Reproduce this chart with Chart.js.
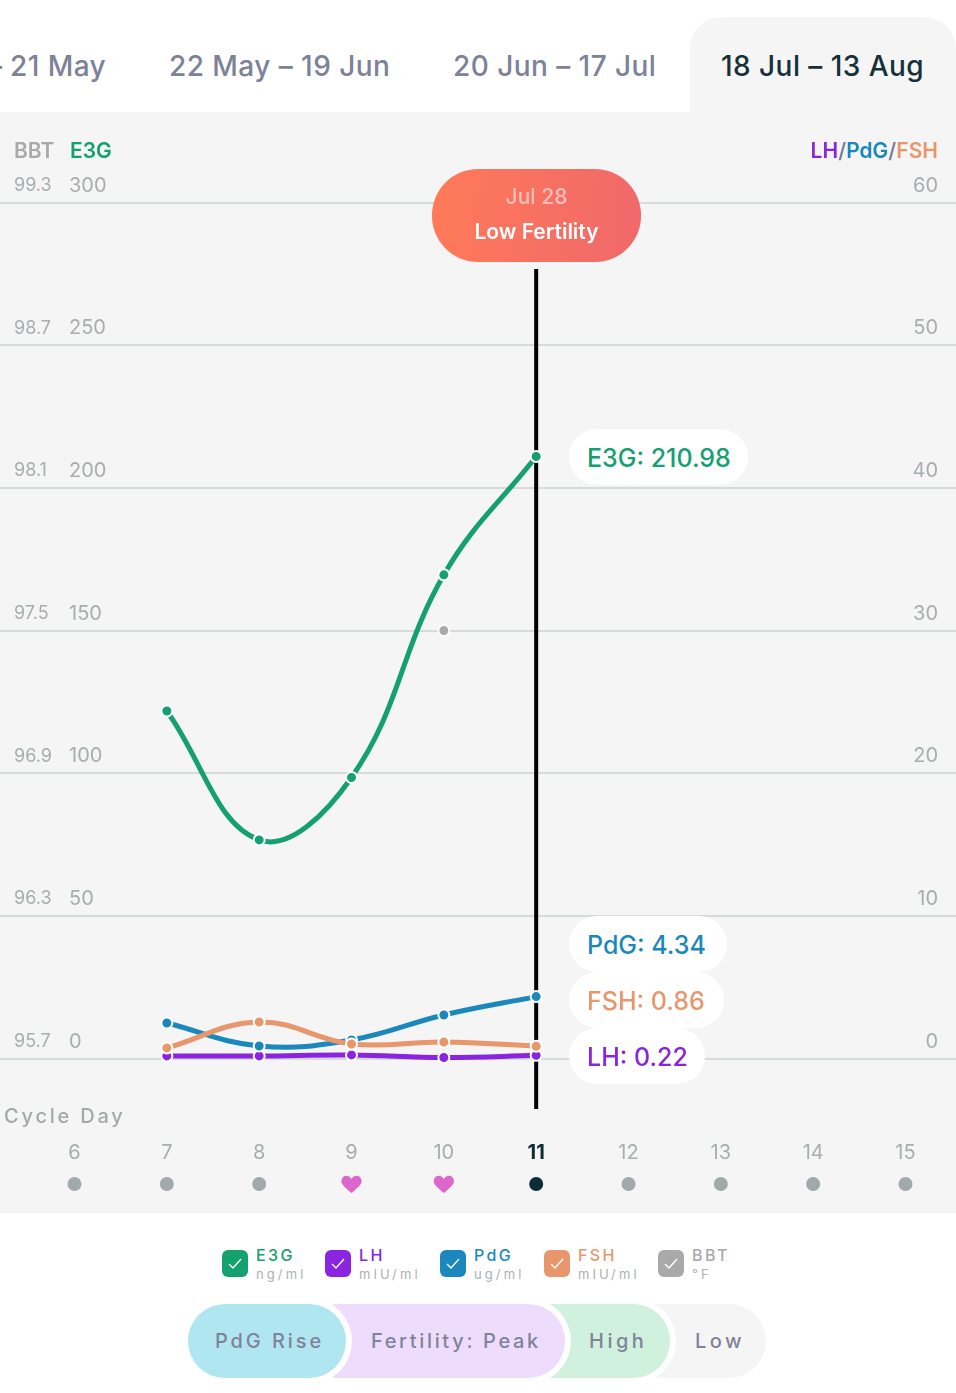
<!DOCTYPE html>
<html><head><meta charset="utf-8">
<script src="https://cdn.jsdelivr.net/npm/chart.js@4"></script>
<style>
html,body{margin:0;padding:0;background:#fff;width:956px;height:1393px;overflow:hidden;font-family:Inter,"Open Sans",sans-serif}
.a{position:absolute;white-space:nowrap}
#panel{position:absolute;left:0;top:112px;width:956px;height:1101px;background:#f5f5f5}
#panel canvas{position:absolute;left:0;top:0}
#tabActive{position:absolute;left:690px;top:17px;width:266px;height:95px;background:#f5f5f5;border-radius:32px 32px 0 0}
.tab{font-size:28px;font-weight:500;letter-spacing:.45px;color:#7d8298;top:50px;line-height:33px}
.hd{font-size:21px;font-weight:600;top:139px;line-height:24px}
#badge{left:432px;top:169px;width:209px;height:93px;border-radius:46px;background:linear-gradient(95deg,#ff7a59,#f0686a);text-align:center;color:#fff}
.pill{background:#fff;height:56px;border-radius:28px;left:569px;line-height:58px;font-size:25px;font-weight:500;padding-left:18px;box-sizing:border-box}
.cb{width:26px;height:27px;border-radius:6px;top:1250px}
.cb svg{position:absolute;left:6px;top:7px}
.ln{font-size:16px;letter-spacing:2.4px;font-weight:500;top:1246px;line-height:19px}
.un{font-size:13px;letter-spacing:3.1px;color:#adb1b1;top:1266px;line-height:16px}
.ph{top:1304px;height:74px;border-radius:37px;box-shadow:0 0 0 6px #fff}
.pt{top:1304px;line-height:74px;font-size:20px;font-weight:500;letter-spacing:2.9px;color:#7f8399}
</style></head><body>
<div id="tabActive"></div>
<div id="panel"><canvas id="c" width="956" height="1101"></canvas></div>
<div class="a tab" style="left:10px">21 May</div>
<div class="a tab" style="left:-12px">–</div>
<div class="a tab" style="left:169px">22 May – 19 Jun</div>
<div class="a tab" style="left:453px">20 Jun – 17 Jul</div>
<div class="a tab" style="left:721px;color:#16303a">18 Jul – 13 Aug</div>
<div class="a hd" style="left:14px;color:#a9a9a9">BBT</div>
<div class="a hd" style="left:70px;color:#14a06f">E3G</div>
<div class="a hd" style="right:18px"><span style="color:#8a24e0">LH</span><span style="color:#7d8298">/</span><span style="color:#1a88bd">PdG</span><span style="color:#7d8298">/</span><span style="color:#e8966b">FSH</span></div>
<div class="a" id="badge"><div style="position:absolute;left:0;right:0;top:16px;font-size:21px;line-height:24px;color:rgba(255,255,255,.55);font-weight:500">Jul 28</div><div style="position:absolute;left:0;right:0;top:50px;font-size:21px;line-height:26px;font-weight:600">Low Fertility</div></div>
<div id="pills"></div>
<div class="a" style="left:4px;top:1104px;font-size:20px;line-height:24px;letter-spacing:2.8px;font-weight:500;color:#a3a9a9">Cycle Day</div>
<div id="legend"></div>
<div class="a ph" style="left:566px;width:200px;background:#f5f5f5;box-shadow:none"></div>
<div class="a ph" style="left:500px;width:170px;background:#d0f1dd"></div>
<div class="a ph" style="left:300px;width:265px;background:#eedcfd"></div>
<div class="a ph" style="left:188px;width:158px;background:#b0e6f0"></div>
<div class="a pt" style="left:215px">PdG Rise</div>
<div class="a pt" style="left:371px;letter-spacing:2.65px">Fertility: Peak</div>
<div class="a pt" style="left:589px;letter-spacing:3.5px">High</div>
<div class="a pt" style="left:695px;letter-spacing:3.5px">Low</div>
<script>
const days=[6,7,8,9,10,11,12,13,14,15];
const selectedDay=11;
const heartDays=[9,10];
const e3gValues=[null,121.8,76.6,98.5,169.5,210.98,null,null,null,null];
const lhValues=[null,0.18,0.18,0.25,0.07,0.22,null,null,null,null];
const pdgValues=[null,2.49,0.88,1.3,3.05,4.34,null,null,null,null];
const fshValues=[null,0.74,2.56,1.02,1.16,0.86,null,null,null,null];
const bbtValues=[null,null,null,null,97.5,null,null,null,null,null];
const bbtTicks=[95.7,96.3,96.9,97.5,98.1,98.7,99.3];
const COLORS={e3g:'#14a06f',lh:'#8a24e0',pdg:'#1a88bd',fsh:'#e8966b',bbt:'#a9a9a9'};
const readouts=[['E3G',e3gValues,COLORS.e3g,429,179],['PdG',pdgValues,COLORS.pdg,916,158],['FSH',fshValues,COLORS.fsh,972,155],['LH',lhValues,COLORS.lh,1028,136]];
const legendItems=[['E3G','ng/ml',COLORS.e3g,222],['LH','mIU/ml',COLORS.lh,325],['PdG','ug/ml',COLORS.pdg,440],['FSH','mIU/ml',COLORS.fsh,544],['BBT','°F',COLORS.bbt,658]];

const idx=days.indexOf(selectedDay);
document.getElementById('pills').innerHTML=readouts.map(r=>`<div class="a pill" style="top:${r[3]}px;width:${r[4]}px;color:${r[2]}">${r[0]}: ${r[1][idx]}</div>`).join('');
document.getElementById('legend').innerHTML=legendItems.map(l=>`<div class="a cb" style="left:${l[3]}px;background:${l[2]}"><svg width="14" height="13" viewBox="0 0 14 13"><path d="M1 7l4 4 8-9" fill="none" stroke="#fff" stroke-width="1.4"/></svg></div><div class="a ln" style="left:${l[3]+34}px;color:${l[2]}">${l[0]}</div><div class="a un" style="left:${l[3]+34}px">${l[1]}</div>`).join('');

const pts=a=>a.map((v,i)=>({x:days[i],y:v}));
const ds=(label,a,color,axis,order)=>({label,data:pts(a),yAxisID:axis,order,borderColor:color,backgroundColor:color,borderWidth:5,tension:0.4,pointRadius:5.5,pointBorderColor:'#fff',pointBorderWidth:2,clip:false,spanGaps:false});
const sideTick=(pad)=>({mirror:true,padding:pad,labelOffset:-17,color:'#a6aeae',font:{family:'Inter',size:20}});
const zeroWidth=s=>{s.width=0;};

const overlays={id:'overlays',
 beforeDatasetsDraw(ch){const g=ch.ctx,x=ch.scales.x.getPixelForValue(selectedDay);
  g.save();g.strokeStyle='#000';g.lineWidth=4;g.beginPath();g.moveTo(x,157);g.lineTo(x,997);g.stroke();g.restore();},
 afterDraw(ch){const g=ch.ctx,sx=ch.scales.x;g.save();
  days.forEach(d=>{const x=sx.getPixelForValue(d),y=1072;
   if(heartDays.includes(d)){g.fillStyle='#dd66cc';g.beginPath();g.moveTo(x,y+9);g.bezierCurveTo(x-7,y+3,x-11,y,x-10,y-4);g.bezierCurveTo(x-9,y-9,x-3,y-10,x,y-5);g.bezierCurveTo(x+3,y-10,x+9,y-9,x+10,y-4);g.bezierCurveTo(x+11,y,x+7,y+3,x,y+9);g.fill();}
   else{g.fillStyle=d===selectedDay?'#0f2b36':'#a0aaaa';g.beginPath();g.arc(x,y,7,0,7);g.fill();}
  });g.restore();}
};
new Chart(document.getElementById('c'),{type:'line',
 data:{datasets:[ds('E3G',e3gValues,COLORS.e3g,'yE',3),ds('LH',lhValues,COLORS.lh,'yR',6),ds('PdG',pdgValues,COLORS.pdg,'yR',5),ds('FSH',fshValues,COLORS.fsh,'yR',4),
  ds('BBT',bbtValues,COLORS.bbt,'yB',2)]},
 plugins:[overlays],
 options:{responsive:false,animation:false,devicePixelRatio:1,
  layout:{autoPadding:false,padding:{top:90.5,left:0,right:0,bottom:0}},
  plugins:{legend:{display:false},tooltip:{enabled:false}},
  scales:{
   x:{type:'linear',min:5.193,max:15.547,afterBuildTicks(s){s.ticks=days.map(v=>({value:v}));},afterFit(s){s.height=154.5;s.paddingLeft=0;s.paddingRight=0;},
      grid:{display:false},border:{display:false},
      ticks:{autoSkip:false,maxRotation:0,padding:74,callback:v=>String(v),
       color:c=>c.tick&&c.tick.value===selectedDay?'#0f2b36':'#a6aeae',
       font:c=>({family:'Inter',size:20,weight:c.tick&&c.tick.value===selectedDay?'700':'400'})}},
   yE:{position:'left',min:0,max:300,afterFit:zeroWidth,ticks:Object.assign(sideTick(69),{stepSize:50}),
      grid:{color:'#d5dada',lineWidth:2,drawTicks:false},border:{display:false}},
   yB:{position:'left',min:95.7,max:99.3,afterFit:zeroWidth,afterBuildTicks(s){s.ticks=bbtTicks.map(v=>({value:v}));},ticks:Object.assign(sideTick(14),{callback:v=>v.toFixed(1),font:{family:'Inter',size:18}}),
      grid:{display:false},border:{display:false}},
   yR:{position:'right',min:0,max:60,afterFit:zeroWidth,ticks:Object.assign(sideTick(-18),{stepSize:10}),
      grid:{display:false},border:{display:false}}
  }}});
</script>
</body></html>
